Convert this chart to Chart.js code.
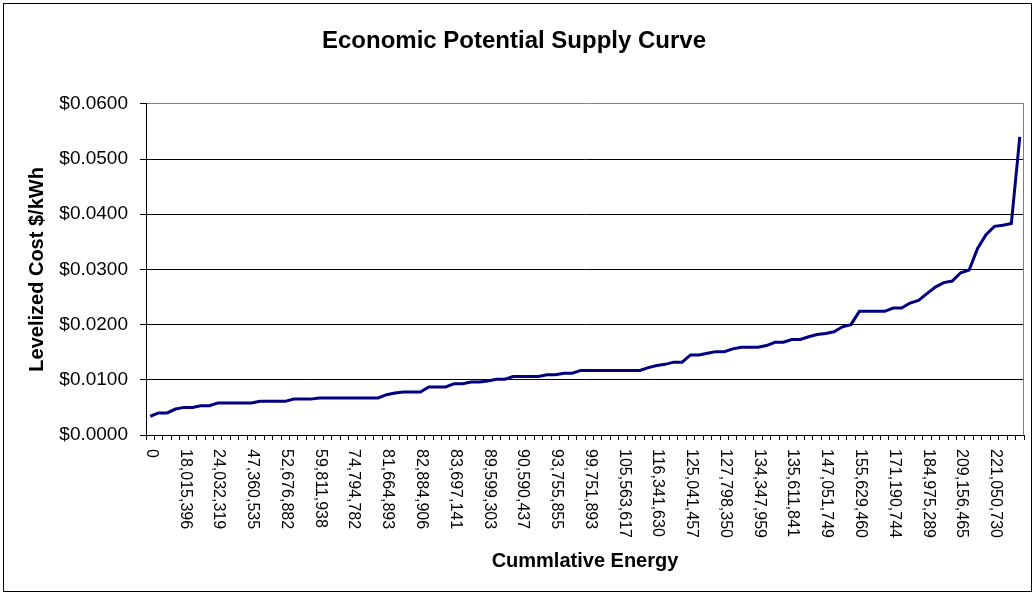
<!DOCTYPE html>
<html>
<head>
<meta charset="utf-8">
<script src="https://cdn.jsdelivr.net/npm/chart.js@4/dist/chart.umd.min.js"></script>
<style>
  html, body { margin: 0; padding: 0; background: #fff; }
  #wrap { width: 1036px; height: 596px; position: relative; }
</style>
</head>
<body>
<div id="wrap"><canvas id="c" width="1036" height="596"></canvas></div>
<script>
// Tick labels shown on the category axis (every 4th category)
const tickLabels = [
  "0", "18,015,396", "24,032,319", "47,360,535", "52,676,882", "59,811,938",
  "74,794,782", "81,664,893", "82,884,906", "83,697,141", "89,599,303", "90,590,437",
  "93,755,855", "99,751,893", "105,563,617", "116,341,630", "125,041,457", "127,798,350",
  "134,347,959", "135,611,841", "147,051,749", "155,629,460", "171,190,744", "184,975,289",
  "209,156,465", "221,050,730"
];
const labelEvery = 4;

// Levelized cost ($/kWh) for each category
const costValues = [
  0.0034, 0.0040, 0.0040, 0.0047, 0.0050, 0.0050, 0.0053, 0.0053, 0.0058, 0.0058,
  0.0058, 0.0058, 0.0058, 0.0061, 0.0061, 0.0061, 0.0061, 0.0065, 0.0065, 0.0065,
  0.0067, 0.0067, 0.0067, 0.0067, 0.0067, 0.0067, 0.0067, 0.0067, 0.0073, 0.0076,
  0.0078, 0.0078, 0.0078, 0.0087, 0.0087, 0.0087, 0.0093, 0.0093, 0.0096, 0.0096,
  0.0098, 0.0101, 0.0101, 0.0106, 0.0106, 0.0106, 0.0106, 0.0109, 0.0109, 0.0112,
  0.0112, 0.0117, 0.0117, 0.0117, 0.0117, 0.0117, 0.0117, 0.0117, 0.0117, 0.0122,
  0.0126, 0.0128, 0.0132, 0.0132, 0.0145, 0.0145, 0.0148, 0.0151, 0.0151, 0.0156,
  0.0159, 0.0159, 0.0159, 0.0162, 0.0168, 0.0168, 0.0173, 0.0173, 0.0178, 0.0182,
  0.0184, 0.0187, 0.0196, 0.0200, 0.0224, 0.0224, 0.0224, 0.0224, 0.0230, 0.0230,
  0.0239, 0.0244, 0.0256, 0.0268, 0.0276, 0.0279, 0.0294, 0.0299, 0.0338, 0.0363,
  0.0378, 0.0380, 0.0383, 0.0540
];

const yMin = 0, yMax = 0.06, yStep = 0.01;

// Category table built from the arrays above
const categories = costValues.map((v, i) =>
  (i % labelEvery === 0 && tickLabels[i / labelEvery] !== undefined) ? tickLabels[i / labelEvery] : ""
);

const FONT = "'Liberation Sans', Arial, sans-serif";

const decorPlugin = {
  id: 'decor',
  beforeDraw(chart) {
    const ctx = chart.ctx;
    ctx.save();
    ctx.fillStyle = '#fff';
    ctx.fillRect(0, 0, chart.width, chart.height);
    ctx.strokeStyle = '#000';
    ctx.lineWidth = 1;
    ctx.strokeRect(3.5, 3.5, 1028, 588);
    ctx.restore();
  },
  beforeDatasetsDraw(chart) {
    const ctx = chart.ctx, a = chart.chartArea;
    ctx.save();
    ctx.strokeStyle = '#808080';
    ctx.lineWidth = 1;
    ctx.beginPath();
    ctx.moveTo(Math.round(a.right) - 0.5, a.top);
    ctx.lineTo(Math.round(a.right) - 0.5, a.bottom);
    ctx.stroke();
    ctx.restore();
  },
  afterDraw(chart) {
    const ctx = chart.ctx;
    const xs = chart.scales.x;
    ctx.save();
    ctx.fillStyle = '#000';
    ctx.font = "16px " + FONT;
    ctx.textAlign = 'left';
    ctx.textBaseline = 'middle';
    categories.forEach((lab, i) => {
      if (!lab) return;
      const x = xs.getPixelForValue(i);
      ctx.save();
      ctx.translate(x + 1, xs.top + 14);
      ctx.rotate(Math.PI / 2);
      ctx.fillText(lab, 0, 0);
      ctx.restore();
    });
    ctx.restore();
  }
};

new Chart(document.getElementById('c'), {
  type: 'line',
  data: {
    labels: categories,
    datasets: [{
      data: costValues,
      borderColor: '#000080',
      backgroundColor: '#000080',
      borderWidth: 3,
      pointRadius: 0,
      tension: 0,
      fill: false
    }]
  },
  options: {
    responsive: false,
    animation: false,
    devicePixelRatio: 1,
    layout: { padding: { left: 4, right: 12, top: 4, bottom: 5 } },
    plugins: {
      legend: { display: false },
      tooltip: { enabled: false },
      title: {
        display: true,
        text: 'Economic Potential Supply Curve',
        color: '#000',
        font: { family: FONT, size: 24, weight: 'bold', lineHeight: 1.2 },
        padding: { top: 23, bottom: 48 }
      }
    },
    scales: {
      x: {
        type: 'category',
        offset: true,
        border: { color: '#000', width: 1 },
        grid: {
          offset: true,
          drawOnChartArea: false,
          drawTicks: true,
          tickLength: 5,
          tickColor: '#000',
          color: '#000'
        },
        ticks: {
          autoSkip: false,
          maxRotation: 0,
          minRotation: 0,
          font: { family: FONT, size: 1 },
          callback: () => ''
        },
        title: {
          display: true,
          text: 'Cummlative Energy',
          color: '#000',
          font: { family: FONT, size: 20, weight: 'bold', lineHeight: 1.2 },
          padding: { top: 0, bottom: 18 }
        },
        afterFit(scale) { scale.height = 156; }
      },
      y: {
        min: yMin,
        max: yMax,
        border: { color: '#000', width: 1 },
        grid: {
          color: (c) => (c.tick && Math.abs(c.tick.value - yMax) < 1e-9) ? '#808080' : '#000',
          lineWidth: 1,
          drawTicks: true,
          tickLength: 6,
          tickColor: '#000'
        },
        ticks: {
          stepSize: yStep,
          padding: 12,
          color: '#000',
          font: { family: FONT, size: 19 },
          callback: (v) => '$' + Number(v).toFixed(4)
        },
        title: {
          display: true,
          text: 'Levelized Cost $/kWh',
          color: '#000',
          font: { family: FONT, size: 20, weight: 'bold', lineHeight: 1.2 },
          padding: { top: 21, bottom: 0 }
        },
        afterFit(scale) { scale.width = 142; }
      }
    }
  },
  plugins: [decorPlugin]
});
</script>
</body>
</html>
